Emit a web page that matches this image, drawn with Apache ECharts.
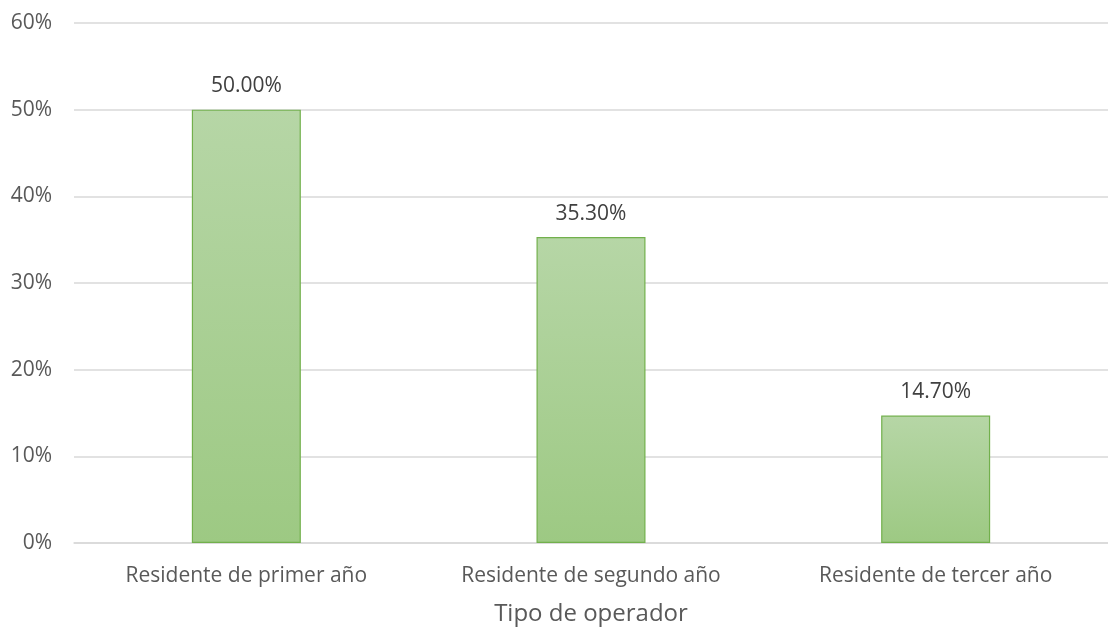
<!DOCTYPE html>
<html>
<head>
<meta charset="utf-8">
<script src="https://cdn.jsdelivr.net/npm/echarts@6/dist/echarts.min.js"></script>
<style>
  html, body { margin: 0; padding: 0; background: #ffffff; overflow: hidden; }
  #chart { width: 1108px; height: 631px; }
</style>
</head>
<body>
<div id="chart"></div>
<script>
// Chart data
const categories = ['Residente de primer año', 'Residente de segundo año', 'Residente de tercer año'];
const shares = [50.0, 35.3, 14.7];
const axisTitle = 'Tipo de operador';

const textColor = '#595959';
const font = 'Open Sans, DejaVu Sans, sans-serif';

const chart = echarts.init(document.getElementById('chart'), null, { renderer: 'canvas' });
chart.setOption({
  animation: false,
  backgroundColor: '#ffffff',
  grid: { left: 74, top: 23, width: 1041, height: 524, containLabel: false },
  xAxis: {
    type: 'category',
    data: categories,
    name: axisTitle,
    nameLocation: 'middle',
    nameGap: 59,
    nameTextStyle: { color: textColor, fontSize: 24, fontFamily: font },
    axisLine: { show: true, lineStyle: { color: '#d9d9d9', width: 1.5 } },
    axisTick: { show: false },
    axisLabel: { color: textColor, fontSize: 21, fontFamily: font, margin: 23 }
  },
  yAxis: {
    type: 'value',
    min: 0,
    max: 60,
    interval: 10,
    axisLine: { show: false },
    axisTick: { show: false },
    splitLine: { lineStyle: { color: '#d9d9d9', width: 1.5 } },
    axisLabel: { color: textColor, fontSize: 21, fontFamily: font, margin: 22, formatter: '{value}%' }
  },
  series: [{
    type: 'bar',
    data: shares,
    barWidth: 109,
    itemStyle: {
      color: new echarts.graphic.LinearGradient(0, 0, 0, 1, [
        { offset: 0, color: '#b6d6a6' },
        { offset: 1, color: '#9dc983' }
      ]),
      borderColor: '#72b04c',
      borderWidth: 1.2
    },
    label: {
      show: true,
      position: 'top',
      distance: 13,
      color: '#404040',
      fontSize: 21,
      fontFamily: font,
      formatter: p => p.value.toFixed(2) + '%'
    }
  }]
});
</script>
</body>
</html>
